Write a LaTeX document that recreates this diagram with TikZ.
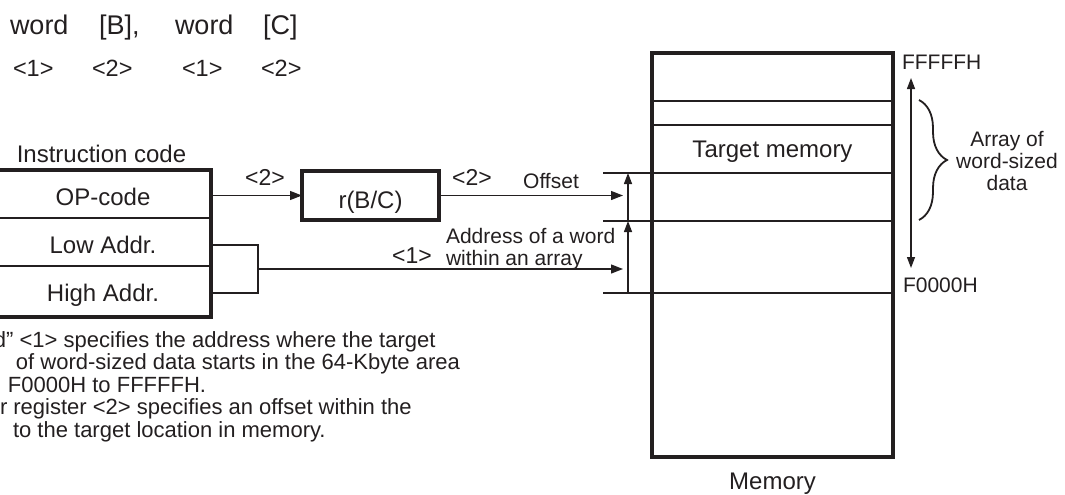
\documentclass[tikz,border=0pt]{standalone}
\usepackage{fontspec}
\setmainfont{Liberation Sans}
\usetikzlibrary{arrows.meta,decorations.pathreplacing}
\definecolor{ink}{RGB}{35,31,32}
\begin{document}
\begin{tikzpicture}[x=1pt,y=-1pt,
  every node/.style={inner sep=0pt, outer sep=0pt, text=ink},
  big/.style={anchor=base west, font=\fontsize{27}{27}\selectfont},
  ang/.style={anchor=base west, font=\fontsize{23.5}{23.5}\selectfont},
  body/.style={anchor=base west, font=\fontsize{22}{22}\selectfont},
  lbl/.style={anchor=base, font=\fontsize{24}{24}\selectfont},
  sml/.style={font=\fontsize{21}{21}\selectfont},
  tag/.style={anchor=base, font=\fontsize{23}{23}\selectfont},
  heavy/.style={line width=3.8pt, draw=ink},
  divider/.style={line width=2.3pt, draw=ink},
  conn/.style={line width=1.3pt, draw=ink},
  arr/.style={conn, -{Triangle[length=12pt,width=9pt]}},
  varr/.style={conn, -{Triangle[length=11pt,width=8pt]}},
]
\useasboundingbox (0,0) rectangle (1065,495);
\clip (0,0) rectangle (1065,495);

% ---- top instruction text
\node[big] (w1) at (10,35) {word};
\node[big] (rb) at (99,35) {[B],};
\node[big] (w2) at (175,35) {word};
\node[big] (rc) at (263,35) {[C]};
\node[ang] (n1) at (13,77) {<1>};
\node[ang] (n2) at (92,77) {<2>};
\node[ang] (n3) at (182,77) {<1>};
\node[ang] (n4) at (261,77) {<2>};

% ---- instruction code box
\node[lbl] (ictitle) at (101.5,162) {Instruction code};
\node[minimum width=216pt, minimum height=48pt, anchor=north west] (op) at (-5,170) {};
\node[minimum width=216pt, minimum height=48pt, anchor=north west] (low) at (-5,218) {};
\node[minimum width=216pt, minimum height=51pt, anchor=north west] (high) at (-5,266) {};
\draw[divider, line width=2.8pt] (op.south west) -- (op.south east);
\draw[divider, line width=2.8pt] (low.south west) -- (low.south east);
\draw[heavy] (op.north west) rectangle (high.south east);
\node[lbl] (optxt) at (103,205.5) {OP-code};
\node[lbl] (lowtxt) at (103,253.5) {Low Addr.};
\node[lbl] (hightxt) at (103,301.5) {High Addr.};

% ---- r(B/C) register
\node[heavy, minimum width=137pt, minimum height=49pt] (rbc) at (370.5,195.5) {};
\node[lbl] (rbctxt) at (370.5,208) {r(B/C)};

% ---- connectors from instruction code
\draw[arr] (rbc.west -| op.east) -- (rbc.west);
\node[tag] (t2a) at (265,185) {<2>};

\coordinate (bt) at (211,245);
\coordinate (bb) at (211,293);
\coordinate (bm) at (258,269);
\coordinate (addrtip) at (623,269);
\draw[conn, line width=2pt] (bt) -| (bm) |- (bb);
\draw[conn, line width=2pt] (258,245) -- (bm);
\draw[arr] (bm) -- (addrtip);
\node[tag] (t1b) at (412,263) {<1>};
\node[sml, anchor=base west] (addr1) at (446,243) {Address of a word};
\node[sml, anchor=base west] (addr2) at (446,265) {within an array};

\coordinate (offtip) at (623,197);
\draw[arr] (rbc.east) -- (rbc.east -| offtip);
\node[tag] (t2b) at (472,185) {<2>};
\node[sml, anchor=base] (offset) at (551,188) {Offset};

% ---- memory
\node[minimum width=241pt, minimum height=404pt, anchor=north west] (mem) at (652,53) {};
\draw[divider] (mem.west |- 0,101) -- (mem.east |- 0,101);
\draw[divider] (mem.west |- 0,125) -- (mem.east |- 0,125);
\coordinate (m1) at (603,173);
\coordinate (m2) at (603,221);
\coordinate (m3) at (603,293);
\draw[divider] (m1) -- (m1 -| mem.east);
\draw[divider] (m2) -- (m2 -| mem.east);
\draw[divider] (m3) -- (m3 -| mem.east);
\draw[heavy, line width=4pt] (mem.north west) rectangle (mem.south east);
\node[lbl] (tmem) at (772.5,157) {Target memory};
\node[lbl] (memlbl) at (772.5,489) {Memory};

% ---- vertical offset / address arrows
\coordinate (va) at (628,293);
\coordinate (vb) at (628,221);
\coordinate (vc) at (628,173);
\draw[varr] (va) -- (vb);
\draw[varr] (vb) -- (vc);

% ---- address range
\node[sml, anchor=base west] (ftop) at (902,70) {FFFFFH};
\node[sml, anchor=base west] (fbot) at (903,292) {F0000H};
\draw[conn, {Triangle[length=11pt,width=8pt]}-{Triangle[length=11pt,width=8pt]}] (911,78) -- (911,268);
\draw[conn, line width=1.8pt, decorate, decoration={brace, amplitude=28pt}] (919,100) -- (919,220);
\node[sml, anchor=base] (ar1) at (1007,146) {Array of};
\node[sml, anchor=base] (ar2) at (1007,168) {word-sized};
\node[sml, anchor=base] (ar3) at (1007,190) {data};

% ---- explanatory text (cut at the left edge)
\node[body] (l1) at (-6,347) {d” <1> specifies the address where the target};
\node[body] (l2) at (16,369.5) {of word-sized data starts in the 64-Kbyte area};
\node[body] (l3) at (8,392) {F0000H to FFFFFH.};
\node[body] (l4) at (0,414.5) {r register <2> specifies an offset within the};
\node[body] (l5) at (13,437) {to the target location in memory.};
\end{tikzpicture}
\end{document}
